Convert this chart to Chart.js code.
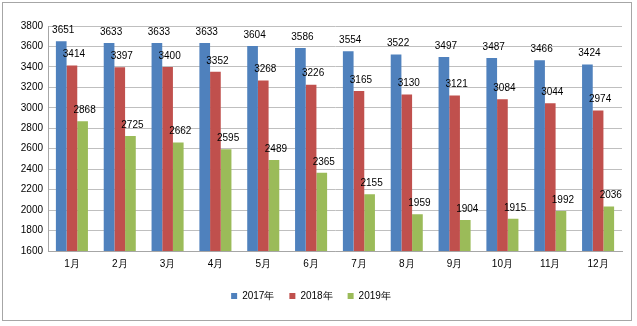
<!DOCTYPE html>
<html>
<head>
<meta charset="utf-8">
<script src="https://cdn.jsdelivr.net/npm/chart.js@4/dist/chart.umd.min.js"></script>
<style>
  html, body { margin: 0; padding: 0; background: #fff; }
  #wrap { position: relative; width: 637px; height: 326px; }
  #frame { position: absolute; left: 2px; top: 2px; width: 630px; height: 319px; border: 1px solid #a6a6a6; box-sizing: border-box; pointer-events: none; }
</style>
</head>
<body>
<div id="wrap">
  <canvas id="c" width="637" height="326"></canvas>
  <div id="frame"></div>
</div>
<script>
// Monthly figures for three years
const months = ['1月','2月','3月','4月','5月','6月','7月','8月','9月','10月','11月','12月'];
const series2017 = [3651, 3633, 3633, 3633, 3604, 3586, 3554, 3522, 3497, 3487, 3466, 3424];
const series2018 = [3414, 3397, 3400, 3352, 3268, 3226, 3165, 3130, 3121, 3084, 3044, 2974];
const series2019 = [2868, 2725, 2662, 2595, 2489, 2365, 2155, 1959, 1904, 1915, 1992, 2036];
const yTicks = [1600, 1800, 2000, 2200, 2400, 2600, 2800, 3000, 3200, 3400, 3600, 3800];

const FONT = "'Liberation Sans', Arial, sans-serif";

// Value labels drawn above every bar
const valueLabels = {
  id: 'valueLabels',
  afterDatasetsDraw(chart) {
    const ctx = chart.ctx;
    ctx.save();
    ctx.font = '10px ' + FONT;
    ctx.fillStyle = '#000';
    ctx.textAlign = 'center';
    ctx.textBaseline = 'middle';
    chart.data.datasets.forEach((ds, i) => {
      chart.getDatasetMeta(i).data.forEach((bar, j) => {
        ctx.fillText(String(ds.data[j]), bar.x + 2, bar.y - 11);
      });
    });
    ctx.restore();
  }
};

new Chart(document.getElementById('c'), {
  type: 'bar',
  data: {
    labels: months,
    datasets: [
      { label: '2017年', data: series2017, backgroundColor: '#4f81bd' },
      { label: '2018年', data: series2018, backgroundColor: '#c0504d' },
      { label: '2019年', data: series2019, backgroundColor: '#9bbb59' }
    ]
  },
  options: {
    responsive: false,
    animation: false,
    devicePixelRatio: 1,
    layout: { padding: { left: 0, right: 15, top: 26, bottom: 15 } },
    datasets: { bar: { categoryPercentage: 0.67, barPercentage: 1.0 } },
    plugins: {
      legend: {
        position: 'bottom',
        labels: {
          boxWidth: 6, boxHeight: 6, padding: 15,
          color: '#000',
          font: { size: 10, family: FONT }
        }
      },
      tooltip: { enabled: false }
    },
    scales: {
      x: {
        grid: { display: false, drawTicks: false },
        border: { color: '#a6a6a6' },
        ticks: { color: '#000', padding: 7, font: { size: 10, family: FONT }, maxRotation: 0 },
        afterFit(s) { s.height = 25; }
      },
      y: {
        min: 1600, max: 3800,
        afterBuildTicks(s) { s.ticks = yTicks.map(v => ({ value: v })); },
        grid: { color: '#bfbfbf', drawTicks: false },
        border: { color: '#a6a6a6' },
        ticks: { color: '#000', padding: 5, font: { size: 10, family: FONT }, callback: v => String(v) },
        afterFit(s) { s.width = 48; }
      }
    }
  },
  plugins: [valueLabels]
});
</script>
</body>
</html>
